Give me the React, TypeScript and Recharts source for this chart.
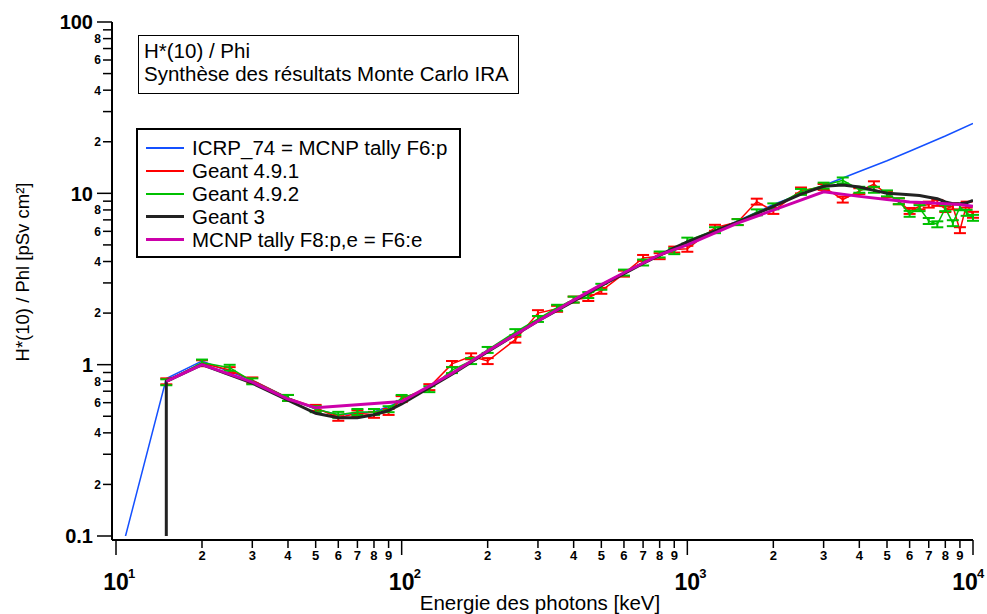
import { ErrorBar, Label, Line, LineChart, XAxis, YAxis } from "recharts";

// ICRP 74 conversion coefficients (blue)
const ICRP_E = [10, 15, 20, 30, 40, 50, 60, 80, 100, 150, 200, 300, 400, 500, 600, 800, 1000, 1500, 2000, 3000, 4000, 5000, 6000, 8000, 10000];
const ICRP_V = [0.061, 0.83, 1.05, 0.81, 0.64, 0.55, 0.51, 0.53, 0.61, 0.89, 1.2, 1.8, 2.38, 2.93, 3.44, 4.38, 5.2, 6.9, 8.6, 11.1, 13.4, 15.5, 17.6, 21.6, 25.6];

// Geant 4 runs share the same energy grid
const G4_E = [15, 20, 25, 30, 40, 50, 60, 70, 80, 90, 100, 125, 150, 175, 200, 250, 300, 350, 400, 450, 500, 600, 700, 800, 900, 1000, 1250, 1500, 1750, 2000, 2500, 3000, 3500, 4000, 4500, 5000, 5500, 6000, 6500, 7000, 7500, 8000, 8500, 9000, 9500, 10000];
const G491_V = [0.8, 1.02, 0.93, 0.81, 0.64, 0.56, 0.49, 0.52, 0.51, 0.53, 0.63, 0.74, 1.01, 1.12, 1.05, 1.4, 2.0, 2.12, 2.4, 2.45, 2.7, 3.4, 4.2, 4.3, 4.7, 4.75, 6.3, 6.8, 8.95, 7.9, 10.4, 10.9, 9.2, 10.3, 11.3, 9.9, 9.0, 7.9, 8.4, 8.6, 8.8, 8.1, 8.4, 6.1, 8.6, 7.5];
const G492_V = [0.79, 1.03, 0.96, 0.8, 0.64, 0.55, 0.51, 0.53, 0.53, 0.55, 0.64, 0.72, 0.93, 1.05, 1.22, 1.55, 1.85, 2.15, 2.4, 2.55, 2.85, 3.45, 3.95, 4.4, 4.6, 5.3, 6.1, 6.8, 7.75, 8.4, 10.2, 11.1, 11.9, 10.5, 10.5, 10.0, 9.0, 7.6, 8.2, 6.9, 6.6, 8.2, 6.7, 8.3, 7.7, 7.2];
const G4_REL_ERR = 0.04;

const G3_E = [15, 15, 20, 30, 40, 50, 60, 70, 80, 90, 100, 150, 200, 300, 400, 500, 600, 700, 800, 900, 1000, 1500, 2000, 2500, 3000, 3500, 4000, 4500, 5000, 5500, 6000, 6500, 7000, 7500, 8000, 8500, 9000, 9500, 10000];
const G3_V = [0.1, 0.8, 1.0, 0.78, 0.62, 0.52, 0.49, 0.49, 0.51, 0.54, 0.59, 0.88, 1.19, 1.8, 2.35, 2.9, 3.4, 3.9, 4.35, 4.8, 5.2, 6.8, 8.4, 9.9, 11.0, 11.2, 10.9, 10.4, 10.0, 9.9, 9.8, 9.7, 9.5, 9.3, 8.9, 8.7, 8.7, 8.8, 9.1];

const F8_E = [15, 20, 30, 40, 50, 100, 150, 200, 300, 400, 500, 600, 800, 1000, 1500, 3000, 4000, 5000, 6000, 7000, 8000, 9000, 10000];
const F8_V = [0.8, 1.0, 0.79, 0.63, 0.56, 0.61, 0.89, 1.2, 1.8, 2.38, 2.93, 3.44, 4.38, 5.0, 6.7, 10.2, 9.6, 9.2, 8.9, 8.8, 8.7, 8.6, 8.4];

const X_TICKS = [10, 20, 30, 40, 50, 60, 70, 80, 90, 100, 200, 300, 400, 500, 600, 700, 800, 900, 1000, 2000, 3000, 4000, 5000, 6000, 7000, 8000, 9000, 10000];
const Y_TICKS = [0.1, 0.2, 0.3, 0.4, 0.5, 0.6, 0.7, 0.8, 0.9, 1, 2, 3, 4, 5, 6, 7, 8, 9, 10, 20, 30, 40, 50, 60, 70, 80, 90, 100];
const Y_MINOR_LABELS = [2, 4, 6, 8];

const toRows = (es: number[], vs: number[], rel?: number) =>
  es.map((e, i) => ({ e, v: vs[i], err: rel ? [vs[i] * rel, vs[i] * rel] : undefined }));

const SERIES = [
  { name: "ICRP_74 = MCNP tally F6:p", color: "#1450ff", width: 1.5, rows: toRows(ICRP_E, ICRP_V), err: false },
  { name: "Geant 4.9.1", color: "#ff0000", width: 1.5, rows: toRows(G4_E, G491_V, G4_REL_ERR), err: true },
  { name: "Geant 4.9.2", color: "#00c000", width: 1.5, rows: toRows(G4_E, G492_V, G4_REL_ERR), err: true },
  { name: "Geant 3", color: "#222222", width: 3, rows: toRows(G3_E, G3_V), err: false },
  { name: "MCNP tally F8:p,e = F6:e", color: "#cc00aa", width: 3, rows: toRows(F8_E, F8_V), err: false },
];

const FONT = "'Liberation Sans', Arial, sans-serif";
const NARROW = "'Liberation Sans Narrow', 'Liberation Sans', Arial, sans-serif";
const CHART_W = 987;

function leadDigit(v: number) {
  const p = Math.floor(Math.log10(v) + 1e-9);
  return { p, d: Math.round(v / Math.pow(10, p)) };
}

function XTick({ x, y, payload }: any) {
  const { p, d } = leadDigit(payload.value);
  const major = d === 1;
  // keep the last exponent label inside the picture
  const shift = Math.min(0, CHART_W - 2 - (x + 20));
  return (
    <g>
      <line x1={x} x2={x} y1={y} y2={y + (major ? 15 : 8)} stroke="#000" strokeWidth={1.5} />
      {major ? (
        <g fontFamily={NARROW} fontWeight="bold" fill="#000">
          <text x={x + shift} y={y + 50} textAnchor="middle" fontSize={23}>10</text>
          <text x={x + shift + 12} y={y + 38} fontSize={13}>{p}</text>
        </g>
      ) : (
        <text x={x} y={y + 20} textAnchor="middle" fontSize={13} fontWeight="bold" fontFamily={NARROW} fill="#000">
          {d}
        </text>
      )}
    </g>
  );
}

function YTick({ x, y, payload }: any) {
  const v = payload.value;
  const { d } = leadDigit(v);
  const major = d === 1;
  return (
    <g>
      <line x1={x} x2={x - (major ? 15 : 9)} y1={y} y2={y} stroke="#000" strokeWidth={1.5} />
      {major ? (
        <text x={x - 19} y={y} dy="0.36em" textAnchor="end" fontSize={20} fontWeight="bold" fontFamily={FONT} fill="#000">
          {String(v)}
        </text>
      ) : Y_MINOR_LABELS.includes(d) ? (
        <text x={x - 11} y={y} dy="0.36em" textAnchor="end" fontSize={12} fontWeight="bold" fontFamily={FONT} fill="#000">
          {d}
        </text>
      ) : null}
    </g>
  );
}

export default function App() {
  return (
    <div style={{ position: "absolute", left: 0, top: 0, width: CHART_W, height: 614, background: "#fff" }}>
      <LineChart width={CHART_W} height={614} margin={{ top: 22, right: 14, bottom: 0, left: 0 }}>
        <XAxis
          dataKey="e"
          type="number"
          scale="log"
          domain={[10, 10000]}
          ticks={X_TICKS}
          interval={0}
          allowDataOverflow
          padding={{ left: 4, right: 0 }}
          height={74}
          tickSize={0}
          tickMargin={0}
          tickLine={false}
          tick={<XTick />}
          axisLine={{ stroke: "#000", strokeWidth: 2 }}
        >
          <Label
            content={() => (
              <text x={540} y={610} textAnchor="middle" fontSize={20.5} fontFamily={NARROW} fill="#000">
                Energie des photons [keV]
              </text>
            )}
          />
        </XAxis>
        <YAxis
          type="number"
          scale="log"
          domain={[0.1, 100]}
          ticks={Y_TICKS}
          interval={0}
          allowDataOverflow
          padding={{ top: 0, bottom: 4 }}
          width={112}
          tickSize={0}
          tickMargin={0}
          tickLine={false}
          tick={<YTick />}
          axisLine={{ stroke: "#000", strokeWidth: 2 }}
        >
          <Label
            content={() => (
              <text x={29} y={272} transform="rotate(-90 29 272)" textAnchor="middle" fontSize={18.5} fontFamily={FONT} fill="#000">
                H*(10) / Phl [pSv cm²]
              </text>
            )}
          />
        </YAxis>
        {SERIES.map((s) => (
          <Line
            key={s.name}
            data={s.rows}
            dataKey="v"
            name={s.name}
            type="linear"
            stroke={s.color}
            strokeWidth={s.width}
            dot={false}
            activeDot={false}
            isAnimationActive={false}
          >
            {s.err && <ErrorBar dataKey="err" direction="y" width={6} stroke={s.color} strokeWidth={2} isAnimationActive={false} />}
          </Line>
        ))}
      </LineChart>

      <div
        style={{
          position: "absolute", left: 138, top: 35, width: 374, height: 54, border: "1.5px solid #000",
          background: "#fff", fontFamily: FONT, fontSize: 20.5, lineHeight: "23px", padding: "3px 0 0 5px", boxSizing: "content-box",
        }}
      >
        <div>H*(10) / Phi</div>
        <div>Synthèse des résultats Monte Carlo IRA</div>
      </div>

      <div
        style={{
          position: "absolute", left: 136, top: 128, width: 313, height: 120, border: "2px solid #000",
          background: "#fff", fontFamily: FONT, fontSize: 20.5, padding: "6px 0 0 8px", boxSizing: "content-box",
        }}
      >
        {SERIES.map((s) => (
          <div key={s.name} style={{ display: "flex", alignItems: "center", height: 23, whiteSpace: "nowrap" }}>
            <span style={{ display: "inline-block", width: 38, height: s.width >= 3 ? 3 : 2, background: s.color, marginRight: 8 }} />
            {s.name}
          </div>
        ))}
      </div>
    </div>
  );
}
